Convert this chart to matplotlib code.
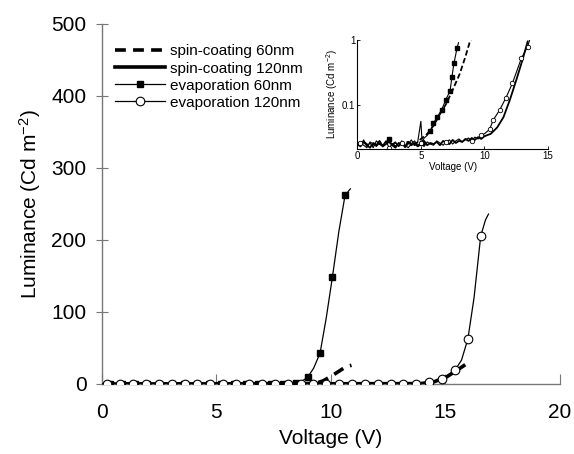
import matplotlib
matplotlib.use("Agg")
import matplotlib.pyplot as plt
from matplotlib.ticker import NullLocator

plt.rcParams['font.family'] = ['Liberation Sans', 'DejaVu Sans']
plt.rcParams['mathtext.fontset'] = 'custom'
plt.rcParams['mathtext.rm'] = 'Liberation Sans'
plt.rcParams['mathtext.it'] = 'Liberation Sans:italic'

# ---- main panel data (linear) ----
spin60_v = [0.0, 9.3, 9.68, 10.1, 10.62, 10.9]
spin60_L = [0.0, 0.5, 4.6, 12.5, 23.2, 26.0]

spin120_v = [0.0, 13.9, 14.5, 15.06, 15.5, 15.8]
spin120_L = [0.0, 0.5, 3.0, 10.0, 19.0, 25.4]

evap60_line_v = [0.0, 8.46, 8.75, 9.0, 9.25, 9.53, 9.8, 10.07, 10.35, 10.62, 10.85]
evap60_line_L = [0.0, 1.0, 4.0, 10.0, 22.0, 43.0, 92.0, 149.0, 212.0, 262.0, 271.0]
evap60_mk_v = [0.36, 0.90, 1.44, 1.98, 2.52, 3.06, 3.60, 4.14, 4.68, 5.22, 5.76,
               6.30, 6.84, 7.38, 7.92, 8.46, 9.0, 9.53, 10.07, 10.62]
evap60_mk_L = [0, 0, 0, 0, 0, 0, 0, 0, 0, 0, 0, 0, 0, 0, 0, 1.0, 10.0, 43.0, 149.0, 262.0]

evap120_line_v = [0.0, 13.73, 14.3, 14.86, 15.42, 15.7, 15.98, 16.25, 16.54, 16.75, 16.88]
evap120_line_L = [0.0, 0.5, 2.4, 6.5, 19.4, 33.0, 62.5, 120.0, 205.5, 228.0, 236.0]
evap120_mk_v = [0.25, 0.81, 1.37, 1.94, 2.50, 3.06, 3.62, 4.18, 4.74, 5.31, 5.87,
                6.43, 6.99, 7.55, 8.12, 8.68, 9.24, 9.80, 10.36, 10.92, 11.49,
                12.05, 12.61, 13.17, 13.73, 14.30, 14.86, 15.42, 15.98, 16.54]
evap120_mk_L = [0, 0, 0, 0, 0, 0, 0, 0, 0, 0, 0, 0, 0, 0, 0, 0, 0, 0, 0, 0, 0,
                0, 0, 0, 0.5, 2.4, 6.5, 19.4, 62.5, 205.5]

# ---- inset data (log) ----
in_evap60_v = [0.0, 0.25, 0.5, 0.75, 1.0, 1.25, 1.5, 1.75, 2.0, 2.25, 2.5, 2.75,
               3.0, 3.25, 3.5, 3.75, 4.0, 4.25, 4.5, 4.75, 5.0, 5.1, 5.25, 5.5,
               5.75, 5.97, 6.3, 6.63, 6.95, 7.3, 7.44, 7.6, 7.84, 7.96]
in_evap60_L = [0.027, 0.024, 0.029, 0.023, 0.026, 0.022, 0.028, 0.025, 0.023,
               0.027, 0.030, 0.024, 0.026, 0.023, 0.028, 0.022, 0.025, 0.029,
               0.024, 0.027, 0.056, 0.026, 0.031, 0.034, 0.040, 0.052, 0.066,
               0.084, 0.119, 0.166, 0.267, 0.437, 0.745, 0.91]

in_spin60_v = [0.0, 0.5, 1.0, 1.5, 2.0, 2.5, 3.0, 3.5, 4.0, 4.5, 5.0, 5.5, 6.0,
               6.5, 7.0, 7.5, 8.05, 8.5, 8.85, 8.95]
in_spin60_L = [0.024, 0.027, 0.023, 0.026, 0.024, 0.028, 0.023, 0.025, 0.027,
               0.024, 0.030, 0.036, 0.048, 0.072, 0.105, 0.17, 0.30, 0.55, 0.94, 1.0]

in_spin120_v = [0.0, 0.25, 0.5, 0.75, 1.0, 1.25, 1.5, 1.75, 2.0, 2.25, 2.5, 2.75,
                3.0, 3.25, 3.5, 3.75, 4.0, 4.25, 4.5, 4.75, 5.0, 5.25, 5.5, 5.75,
                6.0, 6.25, 6.5, 6.75, 7.0, 7.25, 7.5, 7.75, 8.0, 8.25, 8.5, 8.75,
                9.0, 9.25, 9.5, 9.75, 10.0, 10.5, 11.0, 11.5, 12.0, 12.5, 13.0, 13.4]
in_spin120_L = [0.025, 0.023, 0.027, 0.024, 0.022, 0.026, 0.024, 0.028, 0.023, 0.025,
                0.027, 0.024, 0.022, 0.026, 0.025, 0.023, 0.027, 0.024, 0.026, 0.023,
                0.025, 0.028, 0.024, 0.026, 0.025, 0.027, 0.024, 0.028, 0.026, 0.025,
                0.029, 0.026, 0.028, 0.027, 0.030, 0.028, 0.031, 0.029, 0.032, 0.030,
                0.033, 0.036, 0.045, 0.065, 0.12, 0.24, 0.50, 0.95]

in_evap120_v = [0.0, 0.25, 0.5, 0.75, 1.0, 1.25, 1.5, 1.75, 2.0, 2.25, 2.5, 2.75,
                3.0, 3.25, 3.5, 3.75, 4.0, 4.25, 4.5, 4.75, 5.0, 5.25, 5.5, 5.75,
                6.0, 6.25, 6.5, 6.75, 7.0, 7.25, 7.5, 7.75, 8.0, 8.25, 8.5, 8.75,
                9.0, 9.25, 9.5, 9.75, 10.0, 10.4, 10.7, 11.2, 11.7, 12.2, 12.9,
                13.4, 13.55]
in_evap120_L = [0.023, 0.026, 0.024, 0.022, 0.027, 0.025, 0.023, 0.026, 0.024, 0.028,
                0.022, 0.025, 0.027, 0.023, 0.026, 0.024, 0.022, 0.025, 0.028, 0.024,
                0.026, 0.023, 0.027, 0.025, 0.024, 0.028, 0.026, 0.024, 0.027, 0.029,
                0.025, 0.028, 0.030, 0.027, 0.029, 0.031, 0.028, 0.032, 0.030, 0.034,
                0.036, 0.042, 0.059, 0.084, 0.13, 0.216, 0.52, 0.79, 1.0]

xticks = [0, 5, 10, 15, 20]
yticks = [0, 100, 200, 300, 400, 500]

fig = plt.figure(figsize=(5.74, 4.54), dpi=100)
ax = fig.add_axes([0.1772, 0.1542, 0.7984, 0.7930])

ax.plot(spin60_v, spin60_L, color='black', lw=2.6, ls=(0, (3.0, 2.0)),
        label='spin-coating 60nm', zorder=2)
ax.plot(spin120_v, spin120_L, color='black', lw=2.6, label='spin-coating 120nm', zorder=2)
ax.plot(evap60_line_v, evap60_line_L, color='black', lw=0.9, zorder=3)
ax.plot(evap60_mk_v, evap60_mk_L, ls='none', marker='s', ms=4.8, color='black', zorder=3)
ax.plot(evap120_line_v, evap120_line_L, color='black', lw=0.9, zorder=4)
ax.plot(evap120_mk_v, evap120_mk_L, ls='none', marker='o', ms=6.2, mfc='white',
        mec='black', mew=0.8, zorder=4)

# legend proxies for line+marker series
h3, = ax.plot([], [], color='black', lw=0.9, marker='s', ms=4.8, label='evaporation 60nm')
h4, = ax.plot([], [], color='black', lw=0.9, marker='o', ms=6.2, mfc='white',
              mec='black', mew=0.8, label='evaporation 120nm')
handles, labels = ax.get_legend_handles_labels()
ax.legend(handles, labels, loc='upper left', bbox_to_anchor=(0.015, 0.96),
          frameon=False, fontsize=11, handlelength=3.3, handletextpad=0.3,
          labelspacing=0.2, borderaxespad=0)

ax.set_xlim(0, 20)
ax.set_ylim(0, 500)
ax.set_xticks(xticks)
ax.set_yticks(yticks)
for s in ['top', 'right']:
    ax.spines[s].set_visible(False)
for s in ['left', 'bottom']:
    ax.spines[s].set_color('#777777')
    ax.spines[s].set_linewidth(1.0)
ax.tick_params(axis='x', direction='in', length=7, color='#777777', labelsize=15, pad=14)
ax.tick_params(axis='y', direction='inout', length=8, color='#777777', labelsize=15, pad=7)
ax.set_xlabel('Voltage (V)', fontsize=15, labelpad=5)
ax.set_ylabel('Luminance (Cd m$^{-2}$)', fontsize=15, labelpad=6)

# ---- inset ----
ins = fig.add_axes([0.6225, 0.6718, 0.3322, 0.240])
ins.set_yscale('log')
ins.plot(in_spin60_v, in_spin60_L, color='black', lw=1.3, ls=(0, (3.0, 1.5)))
ins.plot(in_spin120_v, in_spin120_L, color='black', lw=1.3)
ins.plot(in_evap60_v, in_evap60_L, color='black', lw=0.8, marker='s', ms=2.8,
         markevery=[10, 21, 24, 25, 26, 27, 28, 29, 30, 31, 32])
ins.plot(in_evap120_v, in_evap120_L, color='black', lw=0.8, marker='o', ms=3.2,
         mfc='white', mec='black', mew=0.6,
         markevery=[1, 10, 14, 20, 28, 36, 39, 41, 42, 43, 44, 45, 46, 47])
ins.set_xlim(0, 15)
ins.set_ylim(0.021, 1)
ins.set_xticks([0, 5, 10, 15])
ins.set_yticks([0.1, 1])
ins.set_yticklabels(['0.1', '1'])
ins.yaxis.set_minor_locator(NullLocator())
for s in ['top', 'right']:
    ins.spines[s].set_visible(False)
for s in ['left', 'bottom']:
    ins.spines[s].set_linewidth(0.8)
ins.tick_params(axis='both', direction='in', length=2.5, width=0.6, labelsize=7, pad=1.5)
ins.set_xlabel('Voltage (V)', fontsize=7, labelpad=1)
ins.set_ylabel('Luminance (Cd m$^{-2}$)', fontsize=7, labelpad=1)

fig.savefig('out.png', dpi=100)
